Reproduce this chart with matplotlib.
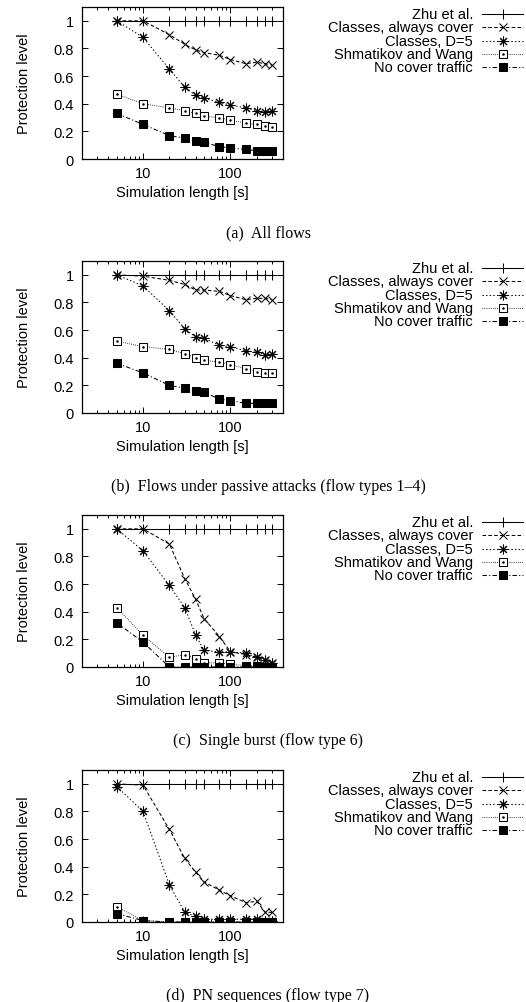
import matplotlib
matplotlib.use('Agg')
import matplotlib.pyplot as plt
from matplotlib.lines import Line2D
from matplotlib.ticker import FixedLocator, FormatStrFormatter, NullFormatter

plt.rcParams['font.family'] = ['Liberation Sans', 'DejaVu Sans']
plt.rcParams['lines.scale_dashes'] = False

# simulation lengths [s]
x = [5, 10, 20, 30, 40, 50, 75, 100, 150, 200, 250, 300]

names = ['Zhu et al.', 'Classes, always cover', 'Classes, D=5',
         'Shmatikov and Wang', 'No cover traffic']

# (a) all flows
a_zhu = [1, 1, 1, 1, 1, 1, 1, 1, 1, 1, 1, 1]
a_always = [1.0, 1.0, 0.90, 0.83, 0.79, 0.77, 0.75, 0.72, 0.69, 0.70, 0.69, 0.68]
a_d5 = [1.0, 0.88, 0.65, 0.52, 0.46, 0.44, 0.41, 0.39, 0.37, 0.35, 0.34, 0.35]
a_sw = [0.47, 0.40, 0.37, 0.35, 0.33, 0.31, 0.30, 0.28, 0.26, 0.25, 0.24, 0.23]
a_none = [0.33, 0.25, 0.17, 0.15, 0.13, 0.12, 0.09, 0.08, 0.07, 0.06, 0.06, 0.06]

# (b) passive attacks
b_zhu = [1, 1, 1, 1, 1, 1, 1, 1, 1, 1, 1, 1]
b_always = [1.0, 0.99, 0.96, 0.93, 0.89, 0.89, 0.88, 0.85, 0.82, 0.83, 0.83, 0.82]
b_d5 = [1.0, 0.92, 0.74, 0.61, 0.55, 0.54, 0.49, 0.48, 0.45, 0.44, 0.42, 0.43]
b_sw = [0.52, 0.48, 0.46, 0.43, 0.40, 0.38, 0.37, 0.35, 0.32, 0.30, 0.29, 0.29]
b_none = [0.36, 0.29, 0.20, 0.18, 0.16, 0.15, 0.10, 0.09, 0.07, 0.07, 0.07, 0.07]

# (c) single burst
c_zhu = [1, 1, 1, 1, 1, 1, 1, 1, 1, 1, 1, 1]
c_always = [1.0, 1.0, 0.89, 0.64, 0.49, 0.35, 0.22, 0.11, 0.09, 0.07, 0.05, 0.03]
c_d5 = [1.0, 0.84, 0.59, 0.43, 0.23, 0.12, 0.11, 0.11, 0.10, 0.07, 0.05, 0.03]
c_sw = [0.43, 0.23, 0.07, 0.09, 0.06, 0.03, 0.03, 0.02, 0.01, 0.01, 0.0, 0.0]
c_none = [0.32, 0.18, 0.0, 0.0, 0.0, 0.0, 0.0, 0.0, 0.0, 0.0, 0.0, 0.0]

# (d) PN sequences
d_zhu = [1, 1, 1, 1, 1, 1, 1, 1, 1, 1, 1, 1]
d_always = [1.0, 0.99, 0.67, 0.46, 0.36, 0.29, 0.23, 0.19, 0.14, 0.15, 0.07, 0.07]
d_d5 = [0.98, 0.80, 0.27, 0.07, 0.04, 0.02, 0.02, 0.02, 0.02, 0.02, 0.01, 0.01]
d_sw = [0.11, 0.01, 0.0, 0.0, 0.0, 0.0, 0.0, 0.0, 0.0, 0.0, 0.0, 0.0]
d_none = [0.06, 0.01, 0.0, 0.0, 0.0, 0.0, 0.0, 0.0, 0.0, 0.0, 0.0, 0.0]

panels = [
    ([a_zhu, a_always, a_d5, a_sw, a_none], '(a)  All flows'),
    ([b_zhu, b_always, b_d5, b_sw, b_none], '(b)  Flows under passive attacks (flow types 1\u20134)'),
    ([c_zhu, c_always, c_d5, c_sw, c_none], '(c)  Single burst (flow type 6)'),
    ([d_zhu, d_always, d_d5, d_sw, d_none], '(d)  PN sequences (flow type 7)'),
]

lw = 0.75
styles = [
    dict(ls='-', marker='+', ms=7.5, mew=lw),
    dict(ls=(0, (2.6, 1.6)), marker='x', ms=5.5, mew=lw),
    dict(ls=(0, (1.0, 1.6)), marker=(8, 2, 0), ms=7, mew=lw),
    dict(ls=(0, (0.5, 1.0)), marker='s', ms=5.5, mew=lw, mfc='white'),
    dict(ls=(0, (3.2, 1.6, 0.8, 1.6)), marker='s', ms=5.5, mew=lw, mfc='black'),
]

W, H = 526, 1003
fig = plt.figure(figsize=(W / 100, H / 100), dpi=100)

tops = [8, 262, 516, 771]
ax_h = 152
left, right = 82, 283

for (series, caption), top in zip(panels, tops):
    ax = fig.add_axes([left / W, 1 - (top + ax_h) / H, (right - left) / W, ax_h / H])
    for ys, st in zip(series, styles):
        ax.plot(x, ys, color='black', lw=lw, mec='black', **st)
        if st['marker'] == 's' and st.get('mfc') == 'white':
            ax.plot(x, ys, ls='none', marker='.', ms=1.6, color='black')
    ax.set_xscale('log')
    ax.set_xlim(2, 400)
    ax.set_ylim(0, 1.1)
    ax.xaxis.set_major_locator(FixedLocator([10, 100]))
    ax.xaxis.set_minor_locator(FixedLocator([2, 3, 4, 5, 6, 7, 8, 9, 20, 30, 40, 50,
                                             60, 70, 80, 90, 200, 300, 400]))
    ax.xaxis.set_major_formatter(FormatStrFormatter('%g'))
    ax.xaxis.set_minor_formatter(NullFormatter())
    ax.yaxis.set_major_locator(FixedLocator([0, 0.2, 0.4, 0.6, 0.8, 1.0]))
    ax.yaxis.set_major_formatter(FormatStrFormatter('%g'))
    ax.tick_params(which='both', direction='in', top=True, right=True,
                   labelsize=10.5, width=0.7)
    ax.tick_params(which='major', length=4, pad=5)
    ax.tick_params(which='minor', length=2)
    ax.tick_params(axis='y', pad=6)
    for sp in ax.spines.values():
        sp.set_linewidth(0.9)
    ax.set_xlabel('Simulation length [s]', fontsize=10.5, va='center')
    ax.xaxis.set_label_coords(0.5, -0.22)
    ax.set_ylabel('Protection level', fontsize=10.5, va='center')
    ax.yaxis.set_label_coords(-0.29, 0.5)

    # key on the right, gnuplot style
    for j, (name, st) in enumerate(zip(names, styles)):
        yk = 1 - (top + 7 + 13.3 * j) / H
        fig.text(473 / W, yk, name, ha='right', va='center', fontsize=10.5)
        ln = Line2D([482 / W, 502.5 / W, 523 / W], [yk, yk, yk], transform=fig.transFigure,
                    color='black', lw=lw, mec='black', markevery=[1], **st)
        fig.add_artist(ln)
        if st['marker'] == 's' and st.get('mfc') == 'white':
            fig.add_artist(Line2D([502.5 / W], [yk], transform=fig.transFigure,
                                  ls='none', marker='.', ms=1.6, color='black'))

    fig.text(268 / W, 1 - (top + ax_h + 73) / H, caption, ha='center', va='center',
             family='Liberation Serif', fontsize=11.5)

fig.savefig('out.png', dpi=100)
